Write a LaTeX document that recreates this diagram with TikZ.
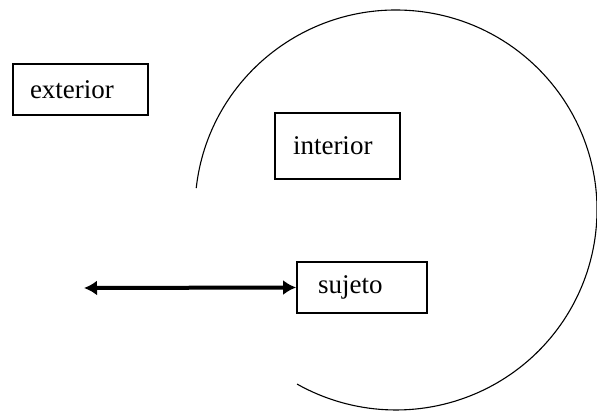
\documentclass[tikz,border=0pt]{standalone}
\usepackage{fontspec}
\setmainfont{Liberation Serif}
\usetikzlibrary{arrows.meta}
\begin{document}
\begin{tikzpicture}[x=1pt,y=1pt,
  labelbox/.style={draw, line width=1.8pt, align=left, anchor=center,
    font=\fontsize{27}{32}\selectfont},
  ring/.style={line width=1.1pt},
  link/.style={line width=4pt, {Latex[length=13pt,width=15pt]}-{Latex[length=13pt,width=15pt]}}]
  \useasboundingbox (0,0) rectangle (597,412);
  % boundary between inside and outside
  \coordinate (ctr) at (396,202);
  \draw[ring] ([shift={(173.7:201pt and 200pt)}]ctr)
    arc[start angle=173.7, end angle=-119.5, x radius=201pt, y radius=200pt];
  % labelled boxes
  \node[labelbox, minimum width=135pt, minimum height=51pt, text width=101pt, inner xsep=17pt]
    (ext) at (80.5,322.5) {exterior};
  \node[labelbox, minimum width=125pt, minimum height=66pt, text width=89pt, inner xsep=18pt]
    (int) at (337.5,266) {interior};
  \node[labelbox, minimum width=130pt, minimum height=51pt, text width=88pt, inner xsep=21pt]
    (suj) at (362,124.5) {sujeto};
  % two-way arrow from the subject
  \coordinate (out) at (84,124);
  \draw[link] (out) -- (suj.west);
\end{tikzpicture}
\end{document}
